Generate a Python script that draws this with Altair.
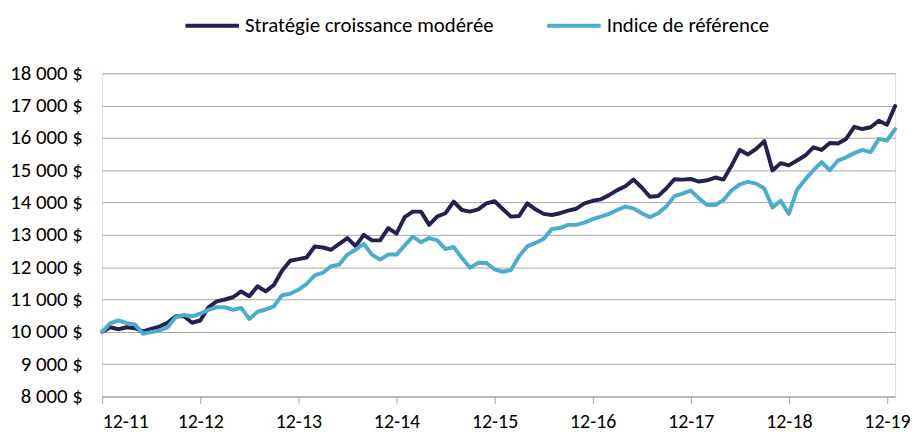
import json
import altair as alt
import pandas as pd

# ---- data (monthly, Dec 2011 -> Jan 2020) ----
series_names = ["Stratégie croissance modérée", "Indice de référence"]
series_colors = ["#22214F", "#4BADCD"]

strategie = [
    10000, 10140, 10080, 10140, 10110, 10010, 10090, 10160, 10280, 10480,
    10480, 10280, 10350, 10760, 10940, 11000, 11070, 11250, 11100, 11410,
    11250, 11450, 11890, 12200, 12250, 12300, 12640, 12610, 12540, 12720,
    12900, 12650, 13000, 12830, 12830, 13210, 13040, 13550, 13720, 13720,
    13310, 13570, 13670, 14030, 13770, 13720, 13790, 13975, 14040, 13800,
    13565, 13585, 13975, 13790, 13650, 13615, 13670, 13750, 13810, 13975,
    14055, 14100, 14230, 14385, 14505, 14710, 14465, 14180, 14200, 14435,
    14720, 14710, 14730, 14650, 14690, 14775, 14710, 15150, 15630, 15490,
    15660, 15900, 14995, 15220, 15150, 15300, 15455, 15710, 15630, 15845,
    15830, 15970, 16345, 16275, 16330, 16530, 16410, 16990,
]
indice = [
    10000, 10270, 10350, 10270, 10230, 9940, 9990, 10040, 10140, 10450,
    10520, 10480, 10560, 10680, 10760, 10760, 10680, 10740, 10400, 10620,
    10690, 10790, 11130, 11180, 11300, 11480, 11745, 11830, 12030, 12080,
    12390, 12545, 12725, 12390, 12235, 12390, 12390, 12665, 12950, 12770,
    12900, 12830, 12560, 12625, 12290, 11980, 12135, 12130, 11930, 11860,
    11910, 12340, 12645, 12750, 12870, 13180, 13210, 13310, 13310, 13380,
    13485, 13565, 13650, 13770, 13875, 13820, 13670, 13545, 13670, 13875,
    14200, 14280, 14370, 14130, 13925, 13925, 14075, 14380, 14565, 14640,
    14585, 14435, 13850, 14055, 13650, 14400, 14710, 15000, 15250, 15000,
    15300, 15400, 15530, 15630, 15560, 15970, 15920, 16275,
]
x_tick_labels = ["12-11", "12-12", "12-13", "12-14", "12-15", "12-16", "12-17", "12-18", "12-19"]
x_tick_values = [12 * k for k in range(len(x_tick_labels))]
y_tick_values = list(range(8000, 18001, 1000))

n = len(strategie)
df = pd.DataFrame({
    "mois": list(range(n)) * 2,
    "valeur": strategie + indice,
    "serie": [series_names[0]] * n + [series_names[1]] * n,
})

FONT = "Calibri, Carlito, Lato, sans-serif"
FS = 21
GRID = "#A6A6A6"

x_label_expr = json.dumps(x_tick_labels) + "[round(datum.value / 12)]"
y_label_expr = "replace(format(datum.value, ',.0f'), ',', ' ') + ' $'"

chart = alt.Chart(df).mark_line(strokeWidth=4, strokeJoin="round", strokeCap="round").encode(
    x=alt.X(
        "mois:Q",
        scale=alt.Scale(domain=[0, n - 1], nice=False, zero=False),
        axis=alt.Axis(
            values=x_tick_values,
            labelExpr=x_label_expr,
            title=None,
            grid=False,
            domainColor=GRID,
            domainWidth=1,
            tickColor=GRID,
            tickSize=7,
            labelPadding=8,
            labelFont=FONT,
            labelFontSize=20,
            labelColor="#000000",
        ),
    ),
    y=alt.Y(
        "valeur:Q",
        scale=alt.Scale(domain=[8000, 18000], nice=False, zero=False),
        axis=alt.Axis(
            values=y_tick_values,
            labelExpr=y_label_expr,
            title=None,
            domain=False,
            ticks=False,
            tickSize=0,
            gridColor=GRID,
            gridWidth=1,
            labelPadding=20,
            labelFont=FONT,
            labelFontSize=FS,
            labelColor="#000000",
        ),
    ),
    color=alt.Color(
        "serie:N",
        scale=alt.Scale(domain=series_names, range=series_colors),
        legend=alt.Legend(
            title=None,
            orient="none",
            direction="horizontal",
            legendX=82,
            legendY=-77,
            symbolType="stroke",
            symbolSize=2916,
            symbolStrokeWidth=4,
            labelFont=FONT,
            labelFontSize=FS,
            labelColor="#000000",
            labelOffset=4,
            labelLimit=600,
            columnPadding=45,
        ),
    ),
    order=alt.Order("mois:Q"),
).properties(
    width=800,
    height=326,
    autosize=alt.AutoSizeParams(type="none"),
    padding={"left": 95, "top": 64, "right": 16, "bottom": 36},
).configure_view(stroke=None).configure(background="white")

chart.save("out.html", embed_options={"renderer": "svg", "actions": False})
